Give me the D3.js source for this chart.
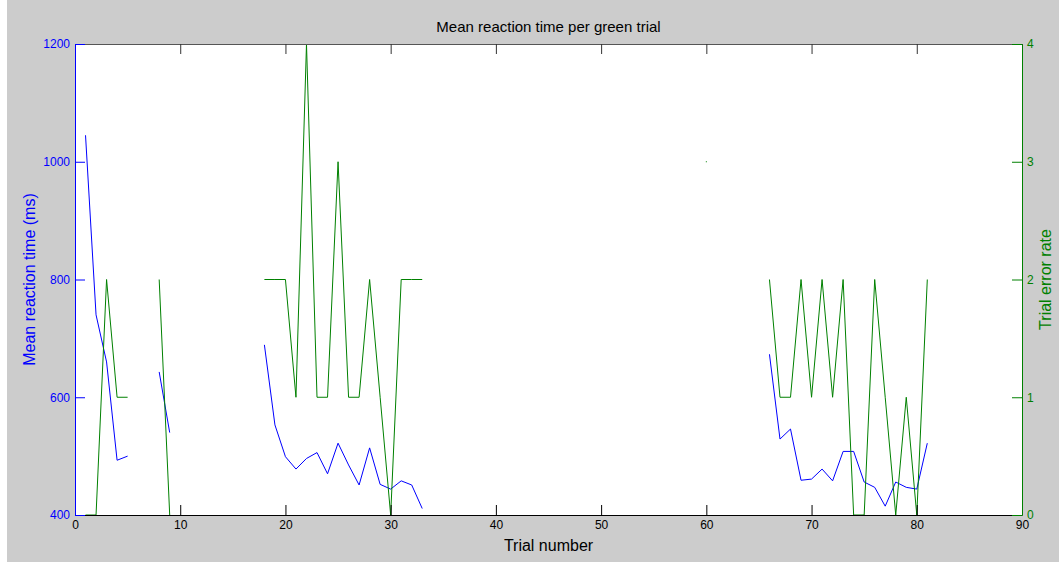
<!DOCTYPE html>
<html>
<head>
<meta charset="utf-8">
<script src="https://cdn.jsdelivr.net/npm/d3@7"></script>
<style>
  body { margin: 0; background: #fff; }
  svg text { font-family: Arial, "Liberation Sans", sans-serif; }
</style>
</head>
<body>
<svg width="1059" height="562"></svg>
<script>
// **** data ****
var trials = d3.range(1, 82);

// mean reaction time (ms), null = no data for that trial
var reactionTime = [
  1045, 740, 660, 493, 500, null, null, 643, 540, null,
  null, null, null, null, null, null, null, 689, 553, 499,
  478, 496, 506, 470, 522, 485, 451, 514, 452, 444,
  458, 451, 411, null, null, null, null, null, null, null,
  null, null, null, null, null, null, null, null, null, null,
  null, null, null, null, null, null, null, null, null, null,
  null, null, null, null, null, 673, 529, 546, 459, 461,
  478, 458, 508, 508, 456, 447, 415, 456, 447, 444,
  522
];

// trial error rate
var errorRate = [
  0, 0, 2, 1, 1, null, null, 2, 0, null,
  null, null, null, null, null, null, null, 2, 2, 2,
  1, 4, 1, 1, 3, 1, 1, 2, 1, 0,
  2, 2, 2, null, null, null, null, null, null, null,
  null, null, null, null, null, null, null, null, null, null,
  null, null, null, null, null, null, null, null, null, 3,
  null, null, null, null, null, 2, 1, 1, 2, 1,
  2, 1, 2, 0, 0, 2, 1, 0, 1, 0,
  2
];

var xTicks = [0, 10, 20, 30, 40, 50, 60, 70, 80, 90];
var rtTicks = [400, 600, 800, 1000, 1200];
var errTicks = [0, 1, 2, 3, 4];

var blue = '#0000ff';
var green = '#008000';

// **** scales ****
var plotLeft = 75, plotRight = 1022, plotTop = 44, plotBottom = 515;

var xScale = d3.scaleLinear().domain([0, 90]).range([plotLeft, plotRight]);
var rtScale = d3.scaleLinear().domain([400, 1200]).range([plotBottom, plotTop]);
var errScale = d3.scaleLinear().domain([0, 4]).range([plotBottom, plotTop]);

var svg = d3.select('svg');

// figure background
svg.append('rect')
    .attr('x', 7).attr('y', 0)
    .attr('width', 1052).attr('height', 562)
    .attr('fill', '#cccccc');

svg.append('rect')
    .attr('x', plotLeft).attr('y', plotTop)
    .attr('width', plotRight - plotLeft).attr('height', plotBottom - plotTop)
    .attr('fill', '#ffffff');

// **** lines ****
function drawSeries(values, scale, color) {
    var pts = trials.map(function(t, i) { return { t: t, v: values[i] }; });
    var line = d3.line()
        .defined(function(d) { return d.v != null; })
        .x(function(d) { return xScale(d.t); })
        .y(function(d) { return scale(d.v); });

    svg.append('path')
        .datum(pts)
        .attr('fill', 'none')
        .attr('stroke', color)
        .attr('stroke-width', 1)
        .attr('d', line);

    // isolated points show up as a single dot
    var lone = pts.filter(function(d, i) {
        return d.v != null &&
            (i == 0 || pts[i - 1].v == null) &&
            (i == pts.length - 1 || pts[i + 1].v == null);
    });
    svg.selectAll(null).data(lone).enter().append('rect')
        .attr('x', function(d) { return xScale(d.t) - 0.5; })
        .attr('y', function(d) { return scale(d.v) - 0.5; })
        .attr('width', 1).attr('height', 1)
        .attr('fill', color);
}

drawSeries(reactionTime, rtScale, blue);
drawSeries(errorRate, errScale, green);

// **** axes ****
var fmt = d3.format('d');

var bottomAxis = svg.append('g')
    .attr('transform', 'translate(0,' + plotBottom + ')')
    .call(d3.axisBottom(xScale).tickValues(xTicks).tickFormat(fmt)
        .tickSizeInner(-10).tickSizeOuter(0).tickPadding(5));
bottomAxis.select('.domain').attr('stroke', '#000');
bottomAxis.selectAll('line').attr('stroke', '#000');
bottomAxis.selectAll('text').attr('font-size', 12).attr('fill', '#000');

var topAxis = svg.append('g')
    .attr('transform', 'translate(0,' + plotTop + ')')
    .call(d3.axisTop(xScale).tickValues(xTicks).tickFormat('')
        .tickSizeInner(-10).tickSizeOuter(0));
topAxis.select('.domain').attr('stroke', '#555');
topAxis.selectAll('line').attr('stroke', '#333');

var leftAxis = svg.append('g')
    .attr('transform', 'translate(' + plotLeft + ',0)')
    .call(d3.axisLeft(rtScale).tickValues(rtTicks).tickFormat(fmt)
        .tickSizeInner(-10).tickSizeOuter(0).tickPadding(5));
leftAxis.select('.domain').attr('stroke', blue);
leftAxis.selectAll('line').attr('stroke', blue);
leftAxis.selectAll('text').attr('font-size', 12).attr('fill', blue);

var rightAxis = svg.append('g')
    .attr('transform', 'translate(' + plotRight + ',0)')
    .call(d3.axisRight(errScale).tickValues(errTicks).tickFormat(fmt)
        .tickSizeInner(-10).tickSizeOuter(0).tickPadding(5));
rightAxis.select('.domain').attr('stroke', green);
rightAxis.selectAll('line').attr('stroke', green);
rightAxis.selectAll('text').attr('font-size', 12).attr('fill', green);

// **** labels ****
svg.append('text')
    .attr('x', (plotLeft + plotRight) / 2).attr('y', 32)
    .attr('text-anchor', 'middle')
    .attr('font-size', 15)
    .attr('fill', '#000')
    .text('Mean reaction time per green trial');

svg.append('text')
    .attr('x', (plotLeft + plotRight) / 2).attr('y', 551)
    .attr('text-anchor', 'middle')
    .attr('font-size', 16)
    .attr('fill', '#000')
    .text('Trial number');

svg.append('text')
    .attr('transform', 'translate(35,' + (plotTop + plotBottom) / 2 + ') rotate(-90)')
    .attr('text-anchor', 'middle')
    .attr('font-size', 16)
    .attr('fill', blue)
    .text('Mean reaction time (ms)');

svg.append('text')
    .attr('transform', 'translate(1051,' + (plotTop + plotBottom) / 2 + ') rotate(-90)')
    .attr('text-anchor', 'middle')
    .attr('font-size', 16)
    .attr('fill', green)
    .text('Trial error rate');
</script>
</body>
</html>
